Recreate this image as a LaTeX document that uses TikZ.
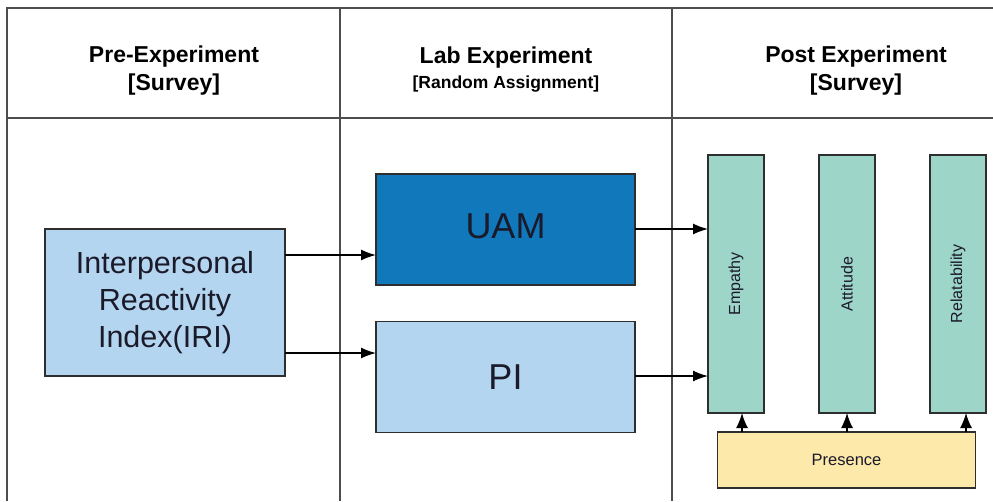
\documentclass[tikz,border=0pt]{standalone}
\usepackage{fontspec}
\setmainfont{Liberation Sans}
\usetikzlibrary{arrows.meta}
\definecolor{lightblue}{HTML}{B4D5EF}
\definecolor{darkblue}{HTML}{1078BB}
\definecolor{teal}{HTML}{9DD5C8}
\definecolor{sand}{HTML}{FDE9A9}
\definecolor{edge}{HTML}{2E2E2E}
\definecolor{ink}{HTML}{1A1A2A}
\tikzset{
  tableline/.style={draw=edge!85, line width=1.4pt},
  box/.style={draw=edge, line width=1.6pt, inner sep=0pt, outer sep=0pt, text=ink, align=center},
  head/.style={font=\bfseries\fontsize{23}{27}\selectfont, text=black, inner sep=0pt},
  sub/.style={font=\bfseries\fontsize{17.5}{20}\selectfont, text=black, inner sep=0pt},
  arr/.style={draw=black, line width=1.4pt, -{Latex[length=15pt,width=11pt]}},
  uparr/.style={draw=black, line width=1.4pt, -{Latex[length=15pt,width=12pt]}}
}
\begin{document}
\begin{tikzpicture}[x=1pt,y=-1pt]
\useasboundingbox (0,0) rectangle (993,501);
% table
\draw[tableline] (7,501) -- (7,8) -- (993,8);
\draw[tableline] (7,118) -- (993,118);
\draw[tableline] (340,8) -- (340,501);
\draw[tableline] (672,8) -- (672,501);
% headers
\node[head] (h1) at (174,57) {Pre-Experiment};
\node[head] (h1b) at (174,85) {[Survey]};
\node[head] (h2) at (506,58) {Lab Experiment};
\node[sub] (h2b) at (506,84) {[Random Assignment]};
\node[head] (h3) at (856,57) {Post Experiment};
\node[head] (h3b) at (856,85) {[Survey]};
% boxes
\node[box, fill=lightblue, minimum width=240pt, minimum height=147pt,
      font=\fontsize{30.5}{37}\selectfont] (iri) at (165,302.5)
      {Interpersonal\\Reactivity\\Index(IRI)};
\node[box, fill=darkblue, minimum width=259pt, minimum height=111pt,
      font=\fontsize{36}{40}\selectfont] (uam) at (505.5,229.5) {UAM\vphantom{g}};
\node[box, fill=lightblue, minimum width=259pt, minimum height=111pt,
      font=\fontsize{36}{40}\selectfont] (pi) at (505.5,377) {PI};
\node[box, fill=teal, minimum width=56pt, minimum height=258pt] (emp) at (736,284) {};
\node[box, fill=teal, minimum width=56pt, minimum height=258pt] (att) at (847,284) {};
\node[box, fill=teal, minimum width=56pt, minimum height=258pt] (rel) at (958,284) {};
\node[rotate=90, font=\fontsize{16}{19}\selectfont, text=ink] (empt) at (emp.center) {Empathy};
\node[rotate=90, font=\fontsize{16}{19}\selectfont, text=ink] (attt) at (att.center) {Attitude};
\node[rotate=90, font=\fontsize{16}{19}\selectfont, text=ink] (relt) at (rel.center) {Relatability};
\node[box, fill=sand, minimum width=258pt, minimum height=56pt,
      font=\fontsize{16.5}{19}\selectfont] (pres) at (846.5,460) {Presence};
% arrows
\draw[arr] (iri.east |- 0,255) -- (uam.west |- 0,255);
\draw[arr] (iri.east |- 0,353) -- (pi.west |- 0,353);
\draw[arr] (uam.east |- 0,229) -- (emp.west |- 0,229);
\draw[arr] (pi.east |- 0,376) -- (emp.west |- 0,376);
\draw[uparr] (pres.north -| 742,0) -- (emp.south -| 742,0);
\draw[uparr] (pres.north -| 847,0) -- (att.south -| 847,0);
\draw[uparr] (pres.north -| 966,0) -- (rel.south -| 966,0);
\end{tikzpicture}
\end{document}
